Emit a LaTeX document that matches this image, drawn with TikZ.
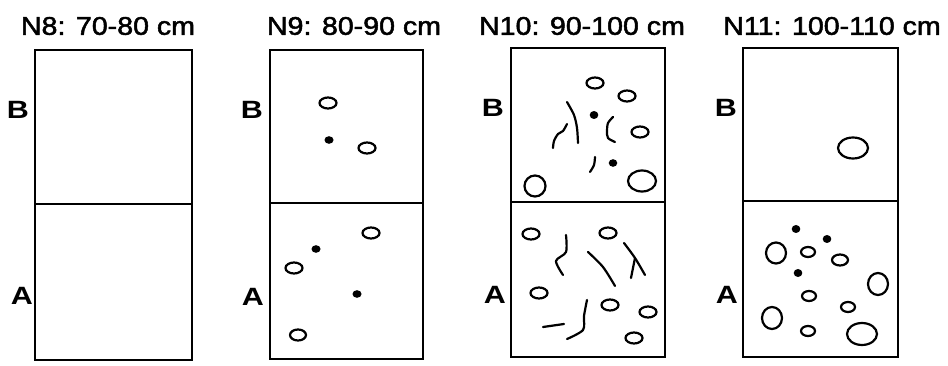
\documentclass[tikz,border=0pt]{standalone}
\usepackage{fontspec}
\setmainfont{Liberation Sans}
\newfontfamily\headfont[FakeBold=1.8]{Liberation Sans}
\begin{document}
\begin{tikzpicture}[x=1pt,y=-1pt,
  frame/.style={draw=black,line width=2.3pt},
  title/.style={font=\headfont\fontsize{25.5}{28}\selectfont,xscale=1.12,inner sep=0pt},
  side/.style={font=\bfseries\fontsize{25}{28}\selectfont,xscale=1.22,inner sep=0pt},
  hole/.style={draw=black,line width=2.2pt},
  dotf/.style={fill=black},
  root/.style={draw=black,line width=2.2pt,line cap=round,line join=round}]
\useasboundingbox (0,0) rectangle (948,366);
\fill[white] (0,0) rectangle (948,366);

% ---- titles ----
\node[title] (t8)  at (108,26) {N8: 70-80 cm};
\node[title] (t9)  at (354,26) {N9: 80-90 cm};
\node[title] (t10) at (582,26) {N10: 90-100 cm};
\node[title] (t11) at (832,26) {N11: 100-110 cm};

% ---- horizon labels ----
\node[side] (b8)  at (18,110) {B};
\node[side] (a8)  at (22,296) {A};
\node[side] (b9)  at (252,110) {B};
\node[side] (a9)  at (253,297) {A};
\node[side] (b10) at (493,108) {B};
\node[side] (a10) at (495,295) {A};
\node[side] (b11) at (726,108) {B};
\node[side] (a11) at (727,295) {A};

% ---- profile frames ----
\draw[frame] (35,50) rectangle (192,360) (35,204) -- (192,204);
\draw[frame] (270,50) rectangle (423,359) (270,203) -- (423,203);
\draw[frame] (511,48) rectangle (665,357) (511,202) -- (665,202);
\draw[frame] (743,48) rectangle (898,357) (743,201) -- (898,201);

% ---- N9 ----
\draw[hole] (328,103) ellipse [x radius=8.5pt, y radius=5.5pt];
\draw[hole] (367,148) ellipse [x radius=8.5pt, y radius=5.5pt];
\fill[dotf] (329,140) ellipse [x radius=4.5pt, y radius=3.8pt];
\draw[hole] (371,233) ellipse [x radius=8.5pt, y radius=5.5pt];
\fill[dotf] (316,249) ellipse [x radius=4.5pt, y radius=3.8pt];
\draw[hole] (294,268) ellipse [x radius=8.5pt, y radius=5.5pt];
\fill[dotf] (357,294) ellipse [x radius=4.5pt, y radius=3.8pt];
\draw[hole] (298,335) ellipse [x radius=8pt, y radius=5.5pt];

% ---- N10, horizon B ----
\draw[hole] (595,83) ellipse [x radius=8.5pt, y radius=5.5pt];
\draw[hole] (627,96) ellipse [x radius=8.5pt, y radius=5.5pt];
\draw[hole] (640,132) ellipse [x radius=8.5pt, y radius=5.5pt];
\draw[hole] (535,186) ellipse [x radius=10.5pt, y radius=10.5pt];
\draw[hole] (642,181) ellipse [x radius=14pt, y radius=10.5pt];
\fill[dotf] (594,115) ellipse [x radius=4.3pt, y radius=4pt];
\fill[dotf] (613,163) ellipse [x radius=4.3pt, y radius=3.8pt];
\draw[root] plot[smooth] coordinates {(567,102) (574,115) (577,128) (578,143)};
\draw[root] plot[smooth] coordinates {(567,124) (563,131) (558,134) (554,141) (553,148)};
\draw[root] plot[smooth] coordinates {(613,117) (608,123) (607,131) (608,138) (615,142)};
\draw[root] plot[smooth] coordinates {(595,157) (594,165) (590,172)};

% ---- N10, horizon A ----
\draw[hole] (531,234) ellipse [x radius=8.5pt, y radius=5.5pt];
\draw[hole] (608,233) ellipse [x radius=8.5pt, y radius=5.5pt];
\draw[hole] (539,293) ellipse [x radius=8.5pt, y radius=5.5pt];
\draw[hole] (610,305) ellipse [x radius=8.5pt, y radius=5.5pt];
\draw[hole] (648,312) ellipse [x radius=8.5pt, y radius=5.5pt];
\draw[hole] (634,338) ellipse [x radius=8.5pt, y radius=5.5pt];
\draw[root] plot[smooth] coordinates {(566,235) (566,252) (556,261) (563,275)};
\draw[root] plot[smooth] coordinates {(588,252) (603,267) (615,286)};
\draw[root] plot[smooth] coordinates {(624,243) (635,258) (645,275)};
\draw[root] (635,258) -- (631,278);
\draw[root] plot[smooth] coordinates {(587,300) (584,316) (583,330) (567,339)};
\draw[root] (543,327) -- (564,324);

% ---- N11 ----
\draw[hole] (853,148) ellipse [x radius=15pt, y radius=10.5pt];
\fill[dotf] (796,229) ellipse [x radius=4.3pt, y radius=4pt];
\fill[dotf] (827,239) ellipse [x radius=4.3pt, y radius=4pt];
\fill[dotf] (798,273) ellipse [x radius=4.3pt, y radius=4pt];
\draw[hole] (776,253) ellipse [x radius=10pt, y radius=10.5pt];
\draw[hole] (808,252) ellipse [x radius=7pt, y radius=5pt];
\draw[hole] (840,260) ellipse [x radius=8pt, y radius=5.5pt];
\draw[hole] (878,284) ellipse [x radius=10pt, y radius=11pt];
\draw[hole] (809,296) ellipse [x radius=7pt, y radius=5pt];
\draw[hole] (848,307) ellipse [x radius=7pt, y radius=5pt];
\draw[hole] (772,318) ellipse [x radius=10pt, y radius=11pt];
\draw[hole] (808,331) ellipse [x radius=7pt, y radius=5pt];
\draw[hole] (862,334) ellipse [x radius=15pt, y radius=11pt];
\end{tikzpicture}
\end{document}
